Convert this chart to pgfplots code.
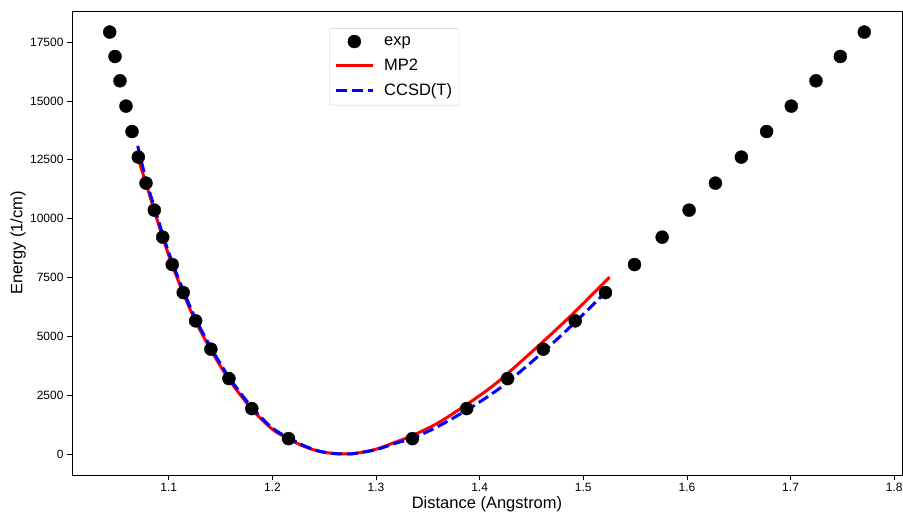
\documentclass[border=0pt]{standalone}
\usepackage{fontspec}
\setmainfont{Liberation Sans}
\usepackage{pgfplots}
\pgfplotsset{compat=1.18}
\pgfplotsset{
  linelegend/.style={legend image code/.code={\draw[##1, draw opacity=1] (0bp,0bp) -- (36.7bp,0bp);}},
  dotlegend/.style={legend image code/.code={\draw[mark repeat=2,mark phase=2,##1, fill opacity=1, draw opacity=1] plot coordinates {(0bp,0bp)(18.35bp,0bp)(36.7bp,0bp)};}},
}
\begin{document}
\begin{tikzpicture}
\useasboundingbox (-72bp,-40bp) rectangle (831bp,475bp);
\begin{axis}[
  at={(0,0)}, anchor=south west,
  scale only axis, width=830bp, height=464bp,
  xmin=1.0067, xmax=1.8075, ymin=-896, ymax=18825,
  xtick={1.1,1.2,1.3,1.4,1.5,1.6,1.7,1.8},
  ytick={0,2500,5000,7500,10000,12500,15000,17500},
  scaled ticks=false,
  tick pos=left,
  tick align=outside, major tick length=5bp,
  tick style={black, line width=0.8bp},
  axis line style={line width=0.8bp},
  xticklabel style={/pgf/number format/fixed, /pgf/number format/fixed zerofill, /pgf/number format/precision=1},
  yticklabel style={/pgf/number format/fixed, /pgf/number format/1000 sep={}},
  /pgf/number format/assume math mode=true,
  tick label style={font=\fontsize{12bp}{14bp}\selectfont},
  label style={font=\fontsize{16.5bp}{19bp}\selectfont},
  xlabel={Distance (Angstrom)}, ylabel={Energy (1/cm)},
  xlabel style={at={(axis description cs:0.5,-0.063)}, anchor=center},
  ylabel style={at={(axis description cs:-0.065,0.5)}, anchor=center},
  legend cell align=left,
  legend style={at={(rel axis cs:0.31,0.963)}, anchor=north west,
    draw=black!20, rounded corners=2bp, fill=white, fill opacity=0.8, text opacity=1,
    font=\fontsize{16.5bp}{19bp}\selectfont, row sep=8bp, column sep=8bp,
    inner xsep=5bp, inner ysep=6bp},
]
\addplot[only marks, mark=*, mark size=6.5bp, black, mark options={fill=black}, dotlegend]
coordinates {
(1.0431,17929) (1.0482,16892) (1.0530,15859) (1.0588,14783) (1.0646,13703)
(1.0707,12615) (1.0781,11509) (1.0861,10361) (1.0942,9213) (1.1034,8048)
(1.1140,6858) (1.1260,5655) (1.1407,4452) (1.1581,3202) (1.1802,1926)
(1.2156,650)
(1.3351,650) (1.3875,1926) (1.4270,3202) (1.4614,4452) (1.4922,5655)
(1.5214,6858) (1.5494,8048) (1.5761,9213) (1.6021,10361) (1.6275,11509)
(1.6525,12615) (1.6769,13703) (1.7007,14783) (1.7245,15859) (1.7480,16892)
(1.7711,17929)
};
\addlegendentry{exp}
\addplot[red, line width=3bp, smooth, linelegend] coordinates {
(1.0691,12755) (1.0781,11500) (1.0861,10350) (1.0942,9200) (1.1034,8030)
(1.1140,6840) (1.1260,5630) (1.1407,4420) (1.1581,3170) (1.1802,1900)
(1.2000,1050) (1.2156,640) (1.2300,330) (1.2450,110) (1.2600,12)
(1.2700,0) (1.2800,22) (1.3000,200) (1.3200,520) (1.3351,780)
(1.3600,1320) (1.3875,2100) (1.4100,2800) (1.4270,3420) (1.4614,4780)
(1.4922,6050) (1.5253,7513)
};
\addlegendentry{MP2}
\addplot[blue, line width=3bp, dash pattern=on 11.1bp off 4.8bp, smooth, linelegend] coordinates {
(1.0701,13095) (1.0781,11650) (1.0861,10500) (1.0942,9330) (1.1034,8150)
(1.1140,6950) (1.1260,5740) (1.1407,4520) (1.1581,3260) (1.1802,1980)
(1.2000,1100) (1.2156,690) (1.2300,360) (1.2450,120) (1.2600,15)
(1.2700,0) (1.2800,20) (1.3000,180) (1.3200,470) (1.3351,660)
(1.3600,1170) (1.3875,1860) (1.4100,2500) (1.4270,3050) (1.4614,4340)
(1.4922,5600) (1.5222,6900)
};
\addlegendentry{CCSD(T)}
\end{axis}
\end{tikzpicture}
\end{document}
